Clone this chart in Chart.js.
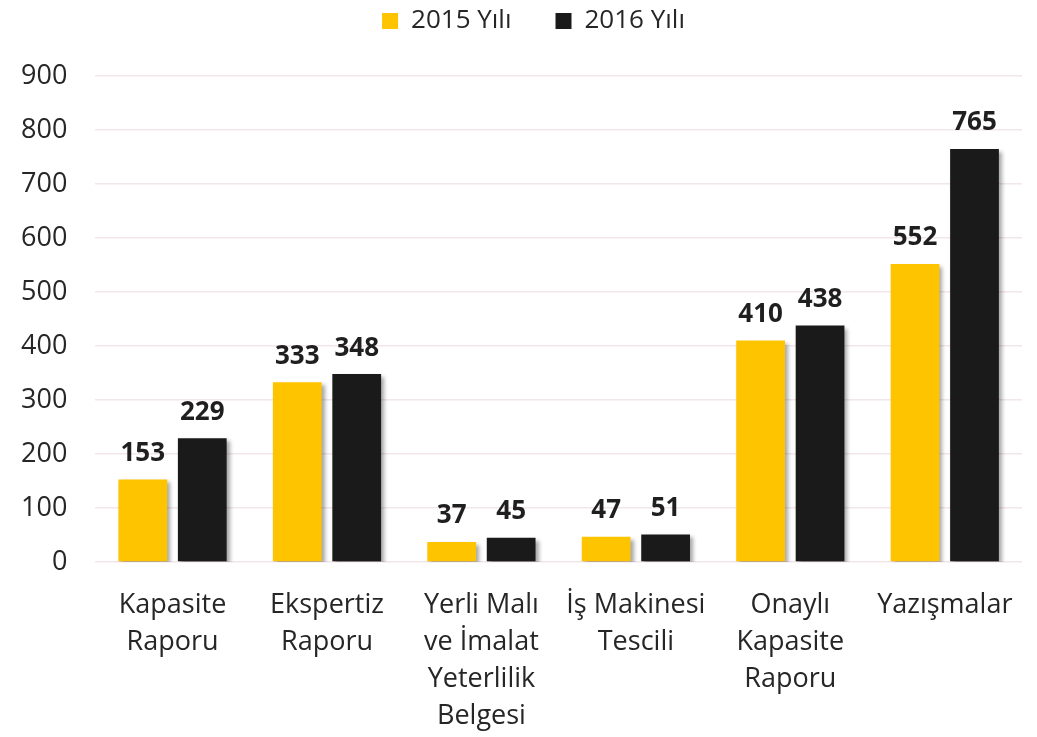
<!DOCTYPE html>
<html>
<head>
<meta charset="utf-8">
<script src="https://cdn.jsdelivr.net/npm/chart.js@4/dist/chart.umd.min.js"></script>
<style>
  html, body { margin: 0; padding: 0; background: #fff; }
  #wrap { width: 1037px; height: 737px; }
</style>
</head>
<body>
<div id="wrap"><canvas id="c" width="1037" height="737"></canvas></div>
<script>
// chart data
const categories = [
  ['Kapasite', 'Raporu'],
  ['Ekspertiz', 'Raporu'],
  ['Yerli Malı', 've İmalat', 'Yeterlilik', 'Belgesi'],
  ['İş Makinesi', 'Tescili'],
  ['Onaylı', 'Kapasite', 'Raporu'],
  ['Yazışmalar']
];
const values2015 = [153, 333, 37, 47, 410, 552];
const values2016 = [229, 348, 45, 51, 438, 765];
const seriesNames = ['2015 Yılı', '2016 Yılı'];
const yTicks = [0, 100, 200, 300, 400, 500, 600, 700, 800, 900];

const FONT = '"Open Sans", "Noto Sans", sans-serif';

// bold value labels over the bars
const valueLabels = {
  id: 'valueLabels',
  afterDatasetsDraw(chart) {
    const ctx = chart.ctx;
    ctx.save();
    ctx.font = 'bold 26px ' + FONT;
    ctx.fillStyle = '#1f1f1f';
    ctx.textAlign = 'center';
    ctx.textBaseline = 'bottom';
    chart.data.datasets.forEach((ds, i) => {
      chart.getDatasetMeta(i).data.forEach((bar, j) => {
        ctx.fillText(ds.data[j], bar.x, bar.y - 13);
      });
    });
    ctx.restore();
  }
};

// soft drop shadow like the original
const barShadow = {
  id: 'barShadow',
  beforeDatasetsDraw(chart) {
    const ctx = chart.ctx;
    ctx.save();
    ctx.shadowColor = 'rgba(0,0,0,0.35)';
    ctx.shadowBlur = 4;
    ctx.shadowOffsetX = 3;
    ctx.shadowOffsetY = 3;
  },
  afterDatasetsDraw(chart) {
    chart.ctx.restore();
  }
};

// extra room under the legend, and legend nudged right like the original
const legendTweak = {
  id: 'legendTweak',
  beforeInit(chart) {
    const legend = chart.legend;
    const fit = legend.fit;
    legend.fit = function () {
      fit.call(legend);
      this.height += 32;
    };
    const draw = legend.draw;
    legend.draw = function () {
      const ctx = chart.ctx;
      ctx.save();
      ctx.translate(26, 0);
      draw.call(legend);
      ctx.restore();
    };
  }
};

new Chart(document.getElementById('c'), {
  type: 'bar',
  data: {
    labels: categories,
    datasets: [
      { label: seriesNames[0], data: values2015, backgroundColor: '#ffc400' },
      { label: seriesNames[1], data: values2016, backgroundColor: '#1a1a1a' }
    ]
  },
  options: {
    responsive: false,
    animation: false,
    categoryPercentage: 0.77,
    barPercentage: 0.82,
    layout: { padding: { left: -7, right: 15, top: -36, bottom: -15 } },
    plugins: {
      tooltip: { enabled: false },
      legend: {
        position: 'top',
        labels: {
          font: { family: FONT, size: 26 },
          color: '#262626',
          boxWidth: 16,
          boxHeight: 16,
          padding: 44
        }
      }
    },
    scales: {
      x: {
        grid: { display: false },
        border: { display: false },
        ticks: {
          font: { family: FONT, size: 27, lineHeight: 1.37 },
          color: '#262626',
          padding: 17,
          maxRotation: 0,
          autoSkip: false
        }
      },
      y: {
        min: 0,
        max: 900,
        afterBuildTicks(axis) { axis.ticks = yTicks.map(v => ({ value: v })); },
        grid: { color: '#f2e6e9', lineWidth: 1.5, drawTicks: false },
        border: { display: false },
        ticks: {
          font: { family: FONT, size: 27 },
          color: '#262626',
          padding: 28
        }
      }
    }
  },
  plugins: [legendTweak, barShadow, valueLabels]
});
</script>
</body>
</html>
